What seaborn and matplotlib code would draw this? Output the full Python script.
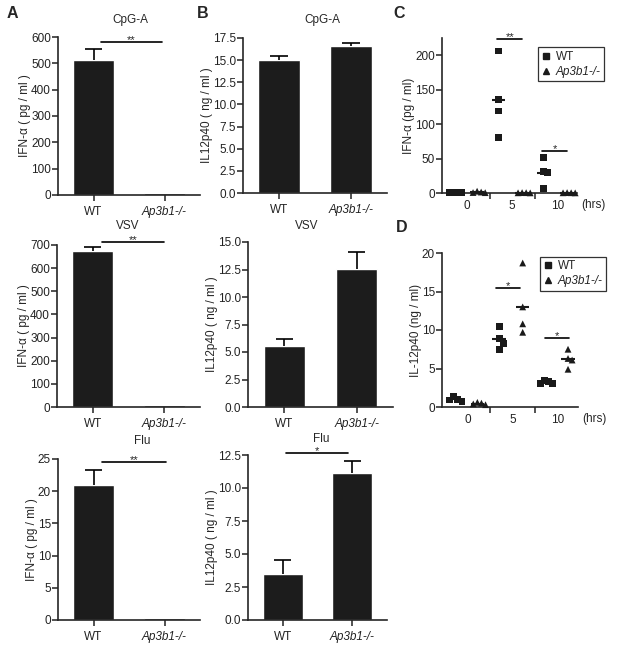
import numpy as np
import pandas as pd
import matplotlib
matplotlib.use("Agg")
import matplotlib.pyplot as plt
from matplotlib.lines import Line2D
import seaborn as sns

# ------------------- data -------------------
genotypes = ["WT", "Ap3b1-/-"]

cpg_ifn = [512, 7]
cpg_ifn_err = [42, 0]
vsv_ifn = [675, 8]
vsv_ifn_err = [18, 0]
flu_ifn = [20.9, 0.3]
flu_ifn_err = [2.4, 0]

cpg_il12 = [15.05, 16.56]
cpg_il12_err = [0.45, 0.38]
vsv_il12 = [5.54, 12.57]
vsv_il12_err = [0.64, 1.53]
flu_il12 = [3.48, 11.16]
flu_il12_err = [1.07, 0.91]

hours = ["0", "5", "10"]

c_wt_0 = [0.6, 0.3, 0.9, 0.2]
c_wt_5 = [206, 136, 119, 80]
c_wt_10 = [51, 31, 30, 6]
c_ko_0 = [0.5, 1.4, 2.6, 0.7]
c_ko_5 = [0.3, 0.5, 0.2, 0.6]
c_ko_10 = [0.4, 0.2, 0.6, 0.3]

d_wt_0 = [1.0, 0.7, 1.4, 0.9]
d_wt_5 = [10.5, 8.9, 8.2, 7.5]
d_wt_10 = [3.3, 3.1, 3.4, 3.0]
d_ko_0 = [0.4, 0.6, 0.3, 0.5]
d_ko_5 = [18.7, 13.0, 10.8, 9.7]
d_ko_10 = [7.5, 6.3, 6.1, 4.9]

# ------------------- style -------------------
sns.set_theme(style="ticks")
plt.rcParams["font.family"] = ["Liberation Sans", "DejaVu Sans"]
plt.rcParams["font.size"] = 8.5
plt.rcParams["axes.linewidth"] = 1.2
plt.rcParams["xtick.major.width"] = 1.1
plt.rcParams["ytick.major.width"] = 1.1
plt.rcParams["xtick.minor.width"] = 1.1
plt.rcParams["xtick.color"] = "#222222"
plt.rcParams["ytick.color"] = "#222222"

W, H = 635, 652
fig = plt.figure(figsize=(W / 100, H / 100), dpi=100)


def rect(l, r, t, b):
    return [l / W, 1 - b / H, (r - l) / W, (b - t) / H]


BAR = "#1c1c1c"


def title(px, py, txt):
    fig.text(px / W, 1 - py / H, txt, ha="center", va="center", fontsize=8.5)


def sig(ax, x0, x1, y, label, fs=8):
    ax.plot([x0, x1], [y, y], color="black", lw=1.2, clip_on=False)
    ax.annotate(label, xy=((x0 + x1) / 2, y), xytext=(0, -0.5),
                textcoords="offset points", ha="center", va="baseline",
                fontsize=fs, annotation_clip=False)


def bar_panel(pos, vals, errs, ylim, step, ylabel, fmt="%d"):
    ax = fig.add_axes(rect(*pos))
    df = pd.DataFrame({"genotype": genotypes, "value": vals})
    sns.barplot(data=df, x="genotype", y="value", color=BAR, saturation=1,
                width=0.57, errorbar=None, ax=ax)
    # upper-only error bars with a cap
    for i, (v, e) in enumerate(zip(vals, errs)):
        if e > 0:
            ax.vlines(i, v, v + e, color="black", lw=1.2, zorder=3)
            ax.hlines(v + e, i - 0.12, i + 0.12, color="black", lw=1.2, zorder=3)
    ax.set_xlim(-0.5, 1.5)
    ax.set_ylim(*ylim)
    ax.set_yticks(np.arange(ylim[0], ylim[1] + step / 2, step))
    ax.yaxis.set_major_formatter(matplotlib.ticker.FormatStrFormatter(fmt))
    ax.set_xlabel("")
    ax.set_ylabel(ylabel, fontsize=8.5, labelpad=0)
    ax.tick_params(axis="y", length=4, pad=1, labelsize=8.5)
    ax.tick_params(axis="x", length=4, pad=4, labelsize=8.5)
    ax.get_xticklabels()[1].set_style("italic")
    sns.despine(ax=ax)
    return ax


ifn_lab = "IFN-α ( pg / ml )"
il_lab = "IL12p40 ( ng / ml )"

ax = bar_panel((58, 200, 37, 195), cpg_ifn, cpg_ifn_err, (0, 600), 100, ifn_lab)
sig(ax, 0.1, 0.97, 581, "**")
title(130, 20, "CpG-A")
ax = bar_panel((57, 200, 245, 407), vsv_ifn, vsv_ifn_err, (0, 700), 100, ifn_lab)
sig(ax, 0.13, 1.0, 711, "**")
title(128, 226, "VSV")
ax = bar_panel((58, 200, 459, 620), flu_ifn, flu_ifn_err, (0, 25), 5, ifn_lab)
sig(ax, 0.12, 1.02, 24.5, "**")
title(142, 441, "Flu")

bar_panel((243, 387, 38, 193), cpg_il12, cpg_il12_err, (0, 17.5), 2.5, il_lab, "%.1f")
title(322, 20, "CpG-A")
bar_panel((248, 393, 242, 407), vsv_il12, vsv_il12_err, (0, 15), 2.5, il_lab, "%.1f")
title(307, 226, "VSV")
ax = bar_panel((248, 387, 455, 620), flu_il12, flu_il12_err, (0, 12.5), 2.5, il_lab, "%.1f")
sig(ax, 0.05, 0.94, 12.63, "*")
title(321, 439, "Flu")

# ------------------- time course panels -------------------
offsets = {"WT": -0.3, "Ap3b1-/-": 0.22}
markers = {"WT": "s", "Ap3b1-/-": "^"}


def spread(vals, thresh, step=0.09):
    # place points top-down; shift sideways when they would overlap
    placed = []
    out = np.zeros(len(vals))
    for i in np.argsort(vals)[::-1]:
        for k in [0, 1, -1, 2, -2, 3, -3]:
            if all(not (pk == k and abs(pv - vals[i]) < thresh) for pv, pk in placed):
                break
        placed.append((vals[i], k))
        out[i] = k * step
    return out


def long_df(wt, ko, thresh):
    frames = []
    for gi, (w, k) in enumerate(zip(wt, ko)):
        for g, vals in (("WT", w), ("Ap3b1-/-", k)):
            vals = np.asarray(vals, dtype=float)
            frames.append(pd.DataFrame({
                "hour": gi, "genotype": g, "value": vals,
                "center": gi + offsets[g],
                "xpos": gi + offsets[g] + spread(vals, thresh)}))
    return pd.concat(frames, ignore_index=True)


def time_panel(pos, df, ylim, yticks, ylabel, legend_anchor):
    ax = fig.add_axes(rect(*pos))
    sns.scatterplot(data=df, x="xpos", y="value", style="genotype",
                    markers=markers, color="#1a1a1a", s=24, linewidth=0,
                    legend=False, ax=ax, zorder=3, clip_on=False)
    means = df.groupby("center")["value"].mean()
    ax.hlines(means.values, means.index - 0.15, means.index + 0.15,
              color="#1a1a1a", lw=1.5, zorder=4, clip_on=False)
    ax.set_xlim(-0.56, 2.44)
    ax.set_ylim(*ylim)
    ax.set_yticks(yticks)
    ax.set_xticks([0, 1, 2])
    ax.set_xticklabels(hours)
    ax.set_xticks([0.5, 1.5], minor=True)
    ax.tick_params(axis="x", which="major", length=0, pad=5, labelsize=8.5)
    ax.tick_params(axis="x", which="minor", length=4, direction="out")
    ax.tick_params(axis="y", length=4, pad=1, labelsize=8.5)
    ax.set_xlabel("")
    ax.set_ylabel(ylabel, fontsize=8.5, labelpad=0)
    ax.annotate("(hrs)", xy=(1.03, 0), xycoords="axes fraction",
                xytext=(0, -4.5), textcoords="offset points",
                ha="left", va="top", fontsize=8.5, annotation_clip=False)
    handles = [Line2D([], [], ls="none", marker="s", color="#1a1a1a", markersize=4.5),
               Line2D([], [], ls="none", marker="^", color="#1a1a1a", markersize=4.5)]
    leg = ax.legend(handles, ["WT", "Ap3b1-/-"], loc="upper left",
                    bbox_to_anchor=legend_anchor, frameon=True, fancybox=False,
                    edgecolor="#333333", framealpha=1, fontsize=8.5,
                    handlelength=0.8, handletextpad=0.4, borderpad=0.3,
                    labelspacing=0.25, borderaxespad=0)
    leg.get_frame().set_linewidth(0.9)
    leg.get_texts()[1].set_style("italic")
    sns.despine(ax=ax)
    return ax


# overlap threshold ~6 px expressed in data units
c_df = long_df([c_wt_0, c_wt_5, c_wt_10], [c_ko_0, c_ko_5, c_ko_10], 225 * 6 / 155)
ax = time_panel((442, 577, 38, 193), c_df, (0, 225), [0, 50, 100, 150, 200],
                "IFN-α (pg / ml)", (0.71, 0.94))
sig(ax, 0.67, 1.22, 223, "**")
sig(ax, 1.67, 2.22, 61, "*")

d_df = long_df([d_wt_0, d_wt_5, d_wt_10], [d_ko_0, d_ko_5, d_ko_10], 20 * 6 / 154)
ax = time_panel((442, 578, 253, 407), d_df, (0, 20), [0, 5, 10, 15, 20],
                "IL-12p40 (ng / ml)", (0.72, 0.975))
sig(ax, 0.64, 1.17, 15.4, "*")
sig(ax, 1.71, 2.25, 8.9, "*")

# ------------------- panel letters -------------------
for letter, (px, py) in {"A": (12, 14), "B": (203, 14), "C": (399, 14), "D": (402, 227)}.items():
    fig.text(px / W, 1 - py / H, letter, fontsize=11.5, fontweight="bold",
             ha="center", va="center")

fig.savefig("out.png", dpi=100)
